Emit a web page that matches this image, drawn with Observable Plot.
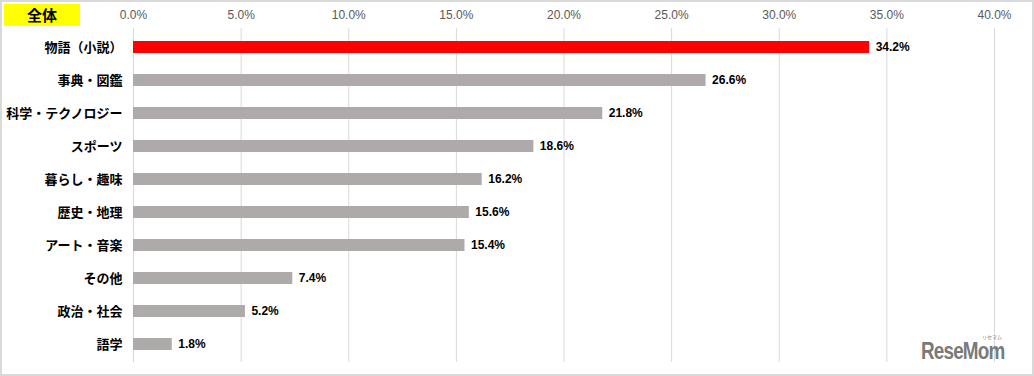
<!DOCTYPE html>
<html><head><meta charset="utf-8">
<script src="https://cdn.jsdelivr.net/npm/d3@7"></script>
<script src="https://cdn.jsdelivr.net/npm/@observablehq/plot@0.6"></script>
<style>
html,body{margin:0;padding:0;background:#fff;}
#wrap{position:relative;width:1034px;height:376px;overflow:hidden;}
#border{position:absolute;left:0;top:0;width:1034px;height:376px;box-sizing:border-box;border:2px solid #d9d9d9;pointer-events:none;}
#tag{position:absolute;left:4px;top:4px;width:76px;height:22px;background:#ffff00;font:bold 15px "Noto Sans CJK JP",sans-serif;line-height:22px;text-align:center;color:#000;}
#logo{position:absolute;left:921px;top:338px;font:bold 23px "Liberation Sans",Arial,sans-serif;color:#7a7a7a;letter-spacing:-1px;transform:scaleX(0.82);transform-origin:left top;}
#small{position:absolute;left:982px;top:334px;font:normal 5px "Noto Sans CJK JP";color:#7a7a7a;line-height:5px;}
</style></head>
<body><div id="wrap"><div id="chart"></div><div id="tag">全体</div><div id="logo">ReseMom</div><div id="small">リセマム</div><div id="border"></div></div>
<script>
const categories = ["物語（小説）","事典・図鑑","科学・テクノロジー","スポーツ","暮らし・趣味","歴史・地理","アート・音楽","その他","政治・社会","語学"];
const values = [34.2,26.6,21.8,18.6,16.2,15.6,15.4,7.4,5.2,1.8];
const xTicks = [0,5,10,15,20,25,30,35,40];
const highlight = "物語（小説）";
const data = categories.map((c,i)=>({category:c,value:values[i]}));

const chart = Plot.plot({
  width:1034, height:376,
  marginLeft:133, marginRight:40, marginTop:28, marginBottom:14,
  style:{background:"transparent"},
  x:{domain:[0,40], ticks:xTicks, axis:null, label:null},
  y:{domain:categories, paddingInner:0.64, paddingOuter:0.32, axis:null, label:null},
  marks:[
    Plot.ruleX(xTicks,{x:d=>d, stroke:"#d9d9d9", strokeWidth:1}),
    Plot.axisX({anchor:"top", ticks:xTicks, tickSize:0, tickPadding:10, label:null, tickFormat:d=>d.toFixed(1)+"%", fontSize:12, fill:"#595959", fontFamily:"Liberation Sans, Arial, sans-serif"}),
    Plot.axisY({tickSize:0, tickPadding:11, label:null, fontSize:13, fontWeight:"bold", fill:"#000", fontFamily:"Noto Sans CJK JP, sans-serif"}),
    Plot.barX(data,{x:"value", y:"category", fill:d=>d.category===highlight?"#ff0000":"#aeaaaa"}),
    Plot.text(data,{x:"value", y:"category", text:d=>d.value.toFixed(1)+"%", textAnchor:"start", dx:6, fontSize:12, fontWeight:"bold", fill:"#000", fontFamily:"Liberation Sans, Arial, sans-serif"})
  ]
});
document.getElementById("chart").appendChild(chart);
</script></body></html>
